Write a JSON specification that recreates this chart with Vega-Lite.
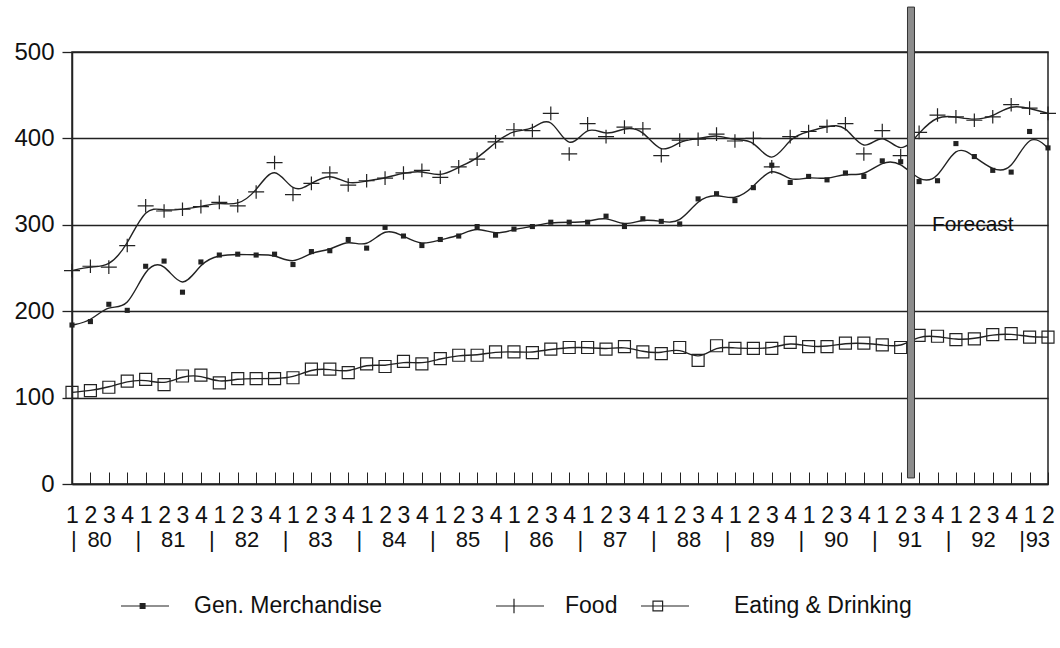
{
  "$schema": "https://vega.github.io/schema/vega-lite/v6.json",
  "width": 976,
  "height": 432,
  "autosize": {"type": "none"},
  "padding": {"left": 72, "top": 52, "right": 12, "bottom": 164},
  "background": "white",
  "config": {
    "view": {"stroke": "#222", "strokeWidth": 1.5},
    "font": "Liberation Sans",
    "legend": {
      "orient": "none", "title": null, "symbolSize": 2304, "labelFont": "Liberation Sans",
      "labelFontSize": 23, "labelColor": "#111", "labelLimit": 800, "legendY": 529
    }
  },
  "resolve": {"scale": {"stroke": "independent"}, "legend": {"stroke": "independent"}},
  "datasets": {
    "sales": [
      {"t":0,"s":"Gen. Merchandise","v":184},{"t":1,"s":"Gen. Merchandise","v":188},{"t":2,"s":"Gen. Merchandise","v":208},{"t":3,"s":"Gen. Merchandise","v":201},
      {"t":4,"s":"Gen. Merchandise","v":252},{"t":5,"s":"Gen. Merchandise","v":258},{"t":6,"s":"Gen. Merchandise","v":222},{"t":7,"s":"Gen. Merchandise","v":257},
      {"t":8,"s":"Gen. Merchandise","v":265},{"t":9,"s":"Gen. Merchandise","v":266},{"t":10,"s":"Gen. Merchandise","v":265},{"t":11,"s":"Gen. Merchandise","v":266},
      {"t":12,"s":"Gen. Merchandise","v":254},{"t":13,"s":"Gen. Merchandise","v":269},{"t":14,"s":"Gen. Merchandise","v":270},{"t":15,"s":"Gen. Merchandise","v":283},
      {"t":16,"s":"Gen. Merchandise","v":273},{"t":17,"s":"Gen. Merchandise","v":297},{"t":18,"s":"Gen. Merchandise","v":287},{"t":19,"s":"Gen. Merchandise","v":276},
      {"t":20,"s":"Gen. Merchandise","v":283},{"t":21,"s":"Gen. Merchandise","v":287},{"t":22,"s":"Gen. Merchandise","v":298},{"t":23,"s":"Gen. Merchandise","v":288},
      {"t":24,"s":"Gen. Merchandise","v":295},{"t":25,"s":"Gen. Merchandise","v":298},{"t":26,"s":"Gen. Merchandise","v":303},{"t":27,"s":"Gen. Merchandise","v":303},
      {"t":28,"s":"Gen. Merchandise","v":303},{"t":29,"s":"Gen. Merchandise","v":310},{"t":30,"s":"Gen. Merchandise","v":298},{"t":31,"s":"Gen. Merchandise","v":307},
      {"t":32,"s":"Gen. Merchandise","v":304},{"t":33,"s":"Gen. Merchandise","v":301},{"t":34,"s":"Gen. Merchandise","v":330},{"t":35,"s":"Gen. Merchandise","v":336},
      {"t":36,"s":"Gen. Merchandise","v":328},{"t":37,"s":"Gen. Merchandise","v":343},{"t":38,"s":"Gen. Merchandise","v":369},{"t":39,"s":"Gen. Merchandise","v":349},
      {"t":40,"s":"Gen. Merchandise","v":356},{"t":41,"s":"Gen. Merchandise","v":352},{"t":42,"s":"Gen. Merchandise","v":360},{"t":43,"s":"Gen. Merchandise","v":356},
      {"t":44,"s":"Gen. Merchandise","v":374},{"t":45,"s":"Gen. Merchandise","v":373},{"t":46,"s":"Gen. Merchandise","v":350},{"t":47,"s":"Gen. Merchandise","v":351},
      {"t":48,"s":"Gen. Merchandise","v":394},{"t":49,"s":"Gen. Merchandise","v":379},{"t":50,"s":"Gen. Merchandise","v":363},{"t":51,"s":"Gen. Merchandise","v":361},
      {"t":52,"s":"Gen. Merchandise","v":408},{"t":53,"s":"Gen. Merchandise","v":389},
      {"t":0,"s":"Food","v":247},{"t":1,"s":"Food","v":252},{"t":2,"s":"Food","v":251},{"t":3,"s":"Food","v":276},
      {"t":4,"s":"Food","v":322},{"t":5,"s":"Food","v":316},{"t":6,"s":"Food","v":318},{"t":7,"s":"Food","v":321},
      {"t":8,"s":"Food","v":326},{"t":9,"s":"Food","v":322},{"t":10,"s":"Food","v":338},{"t":11,"s":"Food","v":372},
      {"t":12,"s":"Food","v":335},{"t":13,"s":"Food","v":348},{"t":14,"s":"Food","v":360},{"t":15,"s":"Food","v":346},
      {"t":16,"s":"Food","v":351},{"t":17,"s":"Food","v":354},{"t":18,"s":"Food","v":360},{"t":19,"s":"Food","v":363},
      {"t":20,"s":"Food","v":355},{"t":21,"s":"Food","v":367},{"t":22,"s":"Food","v":376},{"t":23,"s":"Food","v":396},
      {"t":24,"s":"Food","v":410},{"t":25,"s":"Food","v":409},{"t":26,"s":"Food","v":429},{"t":27,"s":"Food","v":382},
      {"t":28,"s":"Food","v":417},{"t":29,"s":"Food","v":402},{"t":30,"s":"Food","v":413},{"t":31,"s":"Food","v":411},
      {"t":32,"s":"Food","v":380},{"t":33,"s":"Food","v":398},{"t":34,"s":"Food","v":399},{"t":35,"s":"Food","v":405},
      {"t":36,"s":"Food","v":397},{"t":37,"s":"Food","v":400},{"t":38,"s":"Food","v":367},{"t":39,"s":"Food","v":402},
      {"t":40,"s":"Food","v":408},{"t":41,"s":"Food","v":414},{"t":42,"s":"Food","v":417},{"t":43,"s":"Food","v":382},
      {"t":44,"s":"Food","v":409},{"t":45,"s":"Food","v":380},{"t":46,"s":"Food","v":407},{"t":47,"s":"Food","v":427},
      {"t":48,"s":"Food","v":425},{"t":49,"s":"Food","v":421},{"t":50,"s":"Food","v":425},{"t":51,"s":"Food","v":439},
      {"t":52,"s":"Food","v":435},{"t":53,"s":"Food","v":429},
      {"t":0,"s":"Eating & Drinking","v":106},{"t":1,"s":"Eating & Drinking","v":108},{"t":2,"s":"Eating & Drinking","v":112},{"t":3,"s":"Eating & Drinking","v":119},
      {"t":4,"s":"Eating & Drinking","v":121},{"t":5,"s":"Eating & Drinking","v":115},{"t":6,"s":"Eating & Drinking","v":125},{"t":7,"s":"Eating & Drinking","v":126},
      {"t":8,"s":"Eating & Drinking","v":117},{"t":9,"s":"Eating & Drinking","v":122},{"t":10,"s":"Eating & Drinking","v":122},{"t":11,"s":"Eating & Drinking","v":122},
      {"t":12,"s":"Eating & Drinking","v":123},{"t":13,"s":"Eating & Drinking","v":133},{"t":14,"s":"Eating & Drinking","v":133},{"t":15,"s":"Eating & Drinking","v":129},
      {"t":16,"s":"Eating & Drinking","v":139},{"t":17,"s":"Eating & Drinking","v":136},{"t":18,"s":"Eating & Drinking","v":142},{"t":19,"s":"Eating & Drinking","v":139},
      {"t":20,"s":"Eating & Drinking","v":145},{"t":21,"s":"Eating & Drinking","v":149},{"t":22,"s":"Eating & Drinking","v":149},{"t":23,"s":"Eating & Drinking","v":153},
      {"t":24,"s":"Eating & Drinking","v":153},{"t":25,"s":"Eating & Drinking","v":152},{"t":26,"s":"Eating & Drinking","v":156},{"t":27,"s":"Eating & Drinking","v":158},
      {"t":28,"s":"Eating & Drinking","v":158},{"t":29,"s":"Eating & Drinking","v":156},{"t":30,"s":"Eating & Drinking","v":159},{"t":31,"s":"Eating & Drinking","v":153},
      {"t":32,"s":"Eating & Drinking","v":151},{"t":33,"s":"Eating & Drinking","v":158},{"t":34,"s":"Eating & Drinking","v":143},{"t":35,"s":"Eating & Drinking","v":160},
      {"t":36,"s":"Eating & Drinking","v":157},{"t":37,"s":"Eating & Drinking","v":157},{"t":38,"s":"Eating & Drinking","v":157},{"t":39,"s":"Eating & Drinking","v":164},
      {"t":40,"s":"Eating & Drinking","v":159},{"t":41,"s":"Eating & Drinking","v":159},{"t":42,"s":"Eating & Drinking","v":163},{"t":43,"s":"Eating & Drinking","v":163},
      {"t":44,"s":"Eating & Drinking","v":161},{"t":45,"s":"Eating & Drinking","v":158},{"t":46,"s":"Eating & Drinking","v":172},{"t":47,"s":"Eating & Drinking","v":171},
      {"t":48,"s":"Eating & Drinking","v":167},{"t":49,"s":"Eating & Drinking","v":168},{"t":50,"s":"Eating & Drinking","v":173},{"t":51,"s":"Eating & Drinking","v":174},
      {"t":52,"s":"Eating & Drinking","v":170},{"t":53,"s":"Eating & Drinking","v":170}
    ],
    "years": [
      {"t":0.1,"v":0,"label":"|"},{"t":1.5,"v":0,"label":"80"},
      {"t":3.6,"v":0,"label":"|"},{"t":5.5,"v":0,"label":"81"},
      {"t":7.6,"v":0,"label":"|"},{"t":9.5,"v":0,"label":"82"},
      {"t":11.6,"v":0,"label":"|"},{"t":13.5,"v":0,"label":"83"},
      {"t":15.6,"v":0,"label":"|"},{"t":17.5,"v":0,"label":"84"},
      {"t":19.6,"v":0,"label":"|"},{"t":21.5,"v":0,"label":"85"},
      {"t":23.6,"v":0,"label":"|"},{"t":25.5,"v":0,"label":"86"},
      {"t":27.6,"v":0,"label":"|"},{"t":29.5,"v":0,"label":"87"},
      {"t":31.6,"v":0,"label":"|"},{"t":33.5,"v":0,"label":"88"},
      {"t":35.6,"v":0,"label":"|"},{"t":37.5,"v":0,"label":"89"},
      {"t":39.6,"v":0,"label":"|"},{"t":41.5,"v":0,"label":"90"},
      {"t":43.6,"v":0,"label":"|"},{"t":45.5,"v":0,"label":"91"},
      {"t":47.6,"v":0,"label":"|"},{"t":49.5,"v":0,"label":"92"},
      {"t":51.6,"v":0,"label":"|"},{"t":52.45,"v":0,"label":"93"}
    ],
    "forecast": [{"t":45.37,"t2":45.75,"v":7,"v2":552}],
    "notes": [{"t":46.7,"v":300,"label":"Forecast"}]
  },
  "encoding": {
    "x": {
      "field": "t", "type": "quantitative",
      "scale": {"domain": [0, 53], "nice": false, "zero": false},
      "axis": {
        "title": null, "values": [0,1,2,3,4,5,6,7,8,9,10,11,12,13,14,15,16,17,18,19,20,21,22,23,24,25,26,27,28,29,30,31,32,33,34,35,36,37,38,39,40,41,42,43,44,45,46,47,48,49,50,51,52,53],
        "labelExpr": "'' + (datum.value % 4 + 1)",
        "labelFont": "Liberation Sans", "labelFontSize": 23, "labelColor": "#111",
        "labelFlush": false, "labelOverlap": false, "labelBound": false,
        "tickSize": -12, "tickColor": "#222", "tickWidth": 1,
        "labelPadding": 32,
        "domainColor": "#222", "domainWidth": 1.5, "grid": false
      }
    },
    "y": {
      "field": "v", "type": "quantitative",
      "scale": {"domain": [0, 500], "nice": false},
      "axis": {
        "title": null, "values": [0,100,200,300,400,500],
        "labelFont": "Liberation Sans", "labelFontSize": 24, "labelColor": "#111",
        "labelPadding": 8, "tickSize": 10, "tickColor": "#222", "tickWidth": 1.3,
        "grid": true, "gridColor": "#222", "gridWidth": 1.3, "gridOpacity": 1,
        "domainColor": "#222", "domainWidth": 1.5
      }
    }
  },
  "layer": [
    {
      "data": {"name": "sales"},
      "transform": [{"filter": "datum.s === 'Gen. Merchandise'"}],
      "mark": {"type": "line", "interpolate": "basis", "strokeWidth": 1.4},
      "encoding": {
        "stroke": {
          "field": "s", "type": "nominal", "scale": {"range": ["#222"]},
          "legend": {
            "legendX": 48, "labelOffset": 24,
            "encode": {"symbols": {"update": {
              "shape": {"signal": "'M-1,0H1M-0.2,-0.1H0V0.1H-0.2Z'"},
              "fill": {"signal": "'#222'"}, "stroke": {"signal": "'#222'"}, "strokeWidth": {"signal": "1.2"}
            }}}
          }
        }
      }
    },
    {
      "data": {"name": "sales"},
      "transform": [{"filter": "datum.s === 'Food'"}],
      "mark": {"type": "line", "interpolate": "basis", "strokeWidth": 1.4},
      "encoding": {
        "stroke": {
          "field": "s", "type": "nominal", "scale": {"range": ["#222"]},
          "legend": {
            "legendX": 423, "labelOffset": 20,
            "encode": {"symbols": {"update": {
              "shape": {"signal": "'M-1,0H1M-0.25,-0.3V0.3'"},
              "fill": {"signal": "'transparent'"}, "stroke": {"signal": "'#222'"}, "strokeWidth": {"signal": "1.2"}
            }}}
          }
        }
      }
    },
    {
      "data": {"name": "sales"},
      "transform": [{"filter": "datum.s === 'Eating & Drinking'"}],
      "mark": {"type": "line", "interpolate": "basis", "strokeWidth": 1.4},
      "encoding": {
        "stroke": {
          "field": "s", "type": "nominal", "scale": {"range": ["#222"]},
          "legend": {
            "legendX": 568, "labelOffset": 44,
            "encode": {"symbols": {"update": {
              "shape": {"signal": "'M-1,0H1M-0.5,-0.2H-0.1V0.2H-0.5Z'"},
              "fill": {"signal": "'transparent'"}, "stroke": {"signal": "'#222'"}, "strokeWidth": {"signal": "1.2"}
            }}}
          }
        }
      }
    },
    {
      "data": {"name": "sales"},
      "transform": [{"filter": "datum.s === 'Gen. Merchandise'"}],
      "mark": {"type": "point", "shape": "square", "filled": true, "size": 26, "color": "#222", "opacity": 1}
    },
    {
      "data": {"name": "sales"},
      "transform": [{"filter": "datum.s === 'Food'"}],
      "mark": {"type": "point", "shape": "M-1,0H1M0,-0.85V0.85", "filled": false, "size": 256, "stroke": "#222", "strokeWidth": 1.2, "opacity": 1}
    },
    {
      "data": {"name": "sales"},
      "transform": [{"filter": "datum.s === 'Eating & Drinking'"}],
      "mark": {"type": "point", "shape": "square", "filled": false, "size": 144, "stroke": "#222", "strokeWidth": 1.2, "opacity": 1}
    },
    {
      "data": {"name": "forecast"},
      "mark": {"type": "rect", "fill": "#8c8c8c", "stroke": "#333", "strokeWidth": 1},
      "encoding": {
        "x": {"field": "t", "type": "quantitative"},
        "x2": {"field": "t2"},
        "y": {"field": "v", "type": "quantitative"},
        "y2": {"field": "v2"}
      }
    },
    {
      "data": {"name": "years"},
      "mark": {"type": "text", "font": "Liberation Sans", "fontSize": 22, "color": "#111", "baseline": "middle", "align": "center", "dy": 56},
      "encoding": {"text": {"field": "label"}}
    },
    {
      "data": {"name": "notes"},
      "mark": {"type": "text", "font": "Liberation Sans", "fontSize": 21, "color": "#111", "baseline": "middle", "align": "left"},
      "encoding": {"text": {"field": "label"}}
    }
  ]
}
